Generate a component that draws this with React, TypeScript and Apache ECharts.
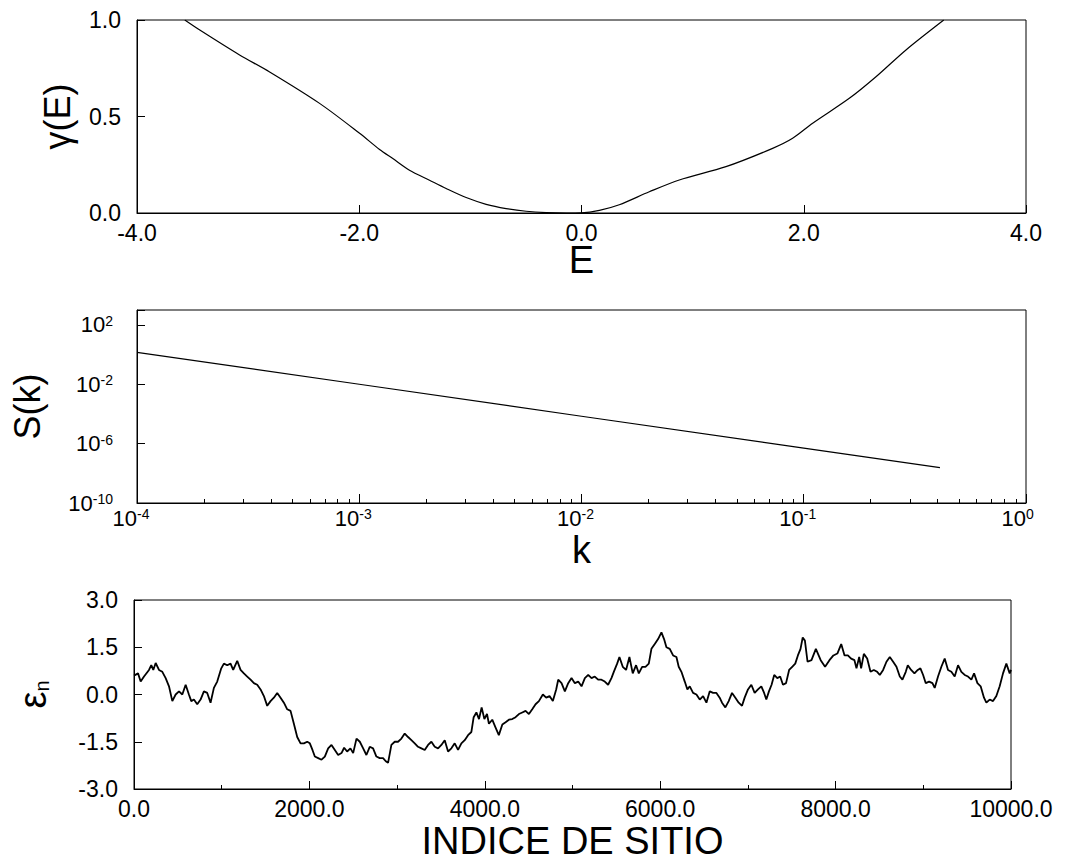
import React, { useEffect, useRef } from 'react';
import * as echarts from 'echarts';

// Lyapunov exponent gamma(E) versus energy E
const energy = [-3.57, -3.435, -3.077, -2.81, -2.357, -1.997, -1.817, -1.698, -1.548, -1.368, -1.218, -1.038, -0.858, -0.678, -0.498, -0.318, -0.138, 0.0, 0.161, 0.34, 0.61, 0.88, 1.3, 1.72, 1.9, 2.08, 2.41, 2.65, 2.92, 3.26];
const gamma = [1.0, 0.948, 0.819, 0.732, 0.568, 0.413, 0.329, 0.282, 0.222, 0.17, 0.127, 0.08, 0.045, 0.023, 0.009, 0.002, 0.0, 0.001, 0.014, 0.043, 0.11, 0.171, 0.24, 0.335, 0.387, 0.465, 0.594, 0.706, 0.845, 1.0];

// Spectral density S(k)
const kValues = [1e-4, 1e-3, 1e-2, 1e-1, 0.41];
const sValues = [1.4, 1.0e-2, 7e-5, 5e-7, 2.4e-8];

// Site energies epsilon_n along the chain
const siteIndex = [0, 46, 76, 114, 171, 197, 220, 247, 285, 323, 361, 399, 437, 475, 513, 551, 589, 626, 653, 683, 721, 759, 797, 835, 873, 911, 949, 995, 1025, 1063, 1101, 1131, 1177, 1215, 1253, 1291, 1329, 1367, 1405, 1443, 1481, 1519, 1557, 1595, 1633, 1671, 1709, 1747, 1785, 1823, 1861, 1899, 1937, 1975, 2005, 2035, 2062, 2100, 2138, 2176, 2214, 2252, 2290, 2328, 2366, 2396, 2430, 2468, 2499, 2537, 2575, 2613, 2650, 2688, 2726, 2764, 2802, 2840, 2871, 2897, 2935, 2973, 3011, 3049, 3087, 3125, 3163, 3201, 3239, 3277, 3315, 3353, 3391, 3429, 3467, 3505, 3543, 3581, 3619, 3657, 3695, 3733, 3771, 3809, 3847, 3873, 3904, 3934, 3964, 3995, 4025, 4047, 4085, 4123, 4160, 4200, 4237, 4275, 4313, 4351, 4389, 4427, 4465, 4503, 4541, 4579, 4617, 4662, 4700, 4738, 4776, 4814, 4837, 4875, 4913, 4951, 4989, 5027, 5065, 5103, 5141, 5179, 5217, 5254, 5292, 5330, 5368, 5406, 5444, 5471, 5509, 5535, 5573, 5611, 5649, 5687, 5725, 5756, 5794, 5832, 5870, 5900, 5938, 5976, 6014, 6044, 6071, 6109, 6147, 6185, 6211, 6242, 6280, 6310, 6337, 6375, 6413, 6451, 6489, 6527, 6565, 6603, 6641, 6678, 6705, 6743, 6781, 6819, 6857, 6895, 6933, 6963, 7001, 7039, 7077, 7115, 7153, 7185, 7210, 7240, 7270, 7300, 7335, 7368, 7400, 7435, 7470, 7505, 7540, 7570, 7600, 7625, 7650, 7680, 7725, 7775, 7830, 7880, 7930, 7975, 8020, 8064, 8102, 8140, 8177, 8215, 8238, 8269, 8291, 8322, 8360, 8398, 8436, 8474, 8504, 8542, 8580, 8618, 8656, 8694, 8732, 8762, 8800, 8823, 8861, 8899, 8937, 8967, 8998, 9028, 9066, 9104, 9130, 9168, 9206, 9244, 9282, 9320, 9358, 9396, 9434, 9472, 9510, 9548, 9579, 9617, 9654, 9692, 9719, 9757, 9795, 9833, 9871, 9909, 9947, 9985, 10000];
const siteEnergy = [0.6, 0.67, 0.41, 0.57, 0.78, 0.93, 0.78, 1.0, 0.78, 0.72, 0.52, 0.26, -0.21, 0.0, 0.1, 0.0, 0.31, 0.0, -0.21, -0.16, -0.31, -0.16, 0.1, 0.05, -0.26, 0.21, 0.41, 0.83, 0.98, 0.93, 0.98, 0.78, 1.07, 0.78, 0.67, 0.57, 0.47, 0.36, 0.31, 0.16, -0.05, -0.36, -0.21, -0.1, 0.05, -0.1, -0.26, -0.47, -0.52, -0.93, -1.35, -1.55, -1.55, -1.5, -1.55, -1.76, -1.97, -2.02, -2.07, -1.97, -1.71, -1.6, -1.76, -1.92, -1.86, -1.69, -1.81, -1.71, -1.86, -1.4, -1.5, -1.71, -1.92, -1.66, -1.71, -1.97, -2.02, -2.02, -2.12, -2.17, -1.6, -1.5, -1.5, -1.4, -1.24, -1.35, -1.45, -1.55, -1.66, -1.71, -1.76, -1.6, -1.5, -1.66, -1.71, -1.6, -1.45, -1.81, -1.71, -1.55, -1.76, -1.55, -1.45, -1.29, -1.19, -0.72, -0.57, -0.78, -0.41, -0.78, -0.62, -0.93, -0.8, -1.05, -1.29, -0.95, -0.88, -0.8, -0.78, -0.72, -0.62, -0.57, -0.52, -0.62, -0.47, -0.31, -0.21, 0.0, -0.1, -0.05, -0.21, 0.16, 0.47, 0.36, 0.1, 0.36, 0.52, 0.36, 0.41, 0.26, 0.52, 0.62, 0.52, 0.57, 0.47, 0.47, 0.41, 0.31, 0.52, 0.72, 0.98, 1.19, 0.88, 0.78, 1.19, 0.67, 0.93, 0.67, 0.88, 0.88, 0.98, 1.45, 1.6, 1.76, 1.97, 1.76, 1.5, 1.45, 1.24, 1.19, 0.88, 0.72, 0.41, 0.16, 0.26, 0.05, 0.0, -0.16, -0.05, -0.26, 0.1, 0.05, 0.05, -0.1, -0.26, -0.41, -0.21, 0.05, -0.1, -0.26, -0.36, -0.1, 0.16, 0.31, 0.05, 0.16, 0.26, 0.05, -0.16, 0.1, 0.31, 0.62, 0.52, 0.57, 0.31, 0.36, 0.78, 0.88, 0.98, 1.24, 1.45, 1.81, 1.71, 1.04, 1.09, 1.45, 1.09, 0.88, 1.09, 1.24, 1.3, 1.6, 1.24, 1.24, 1.14, 1.09, 0.83, 1.19, 0.83, 1.29, 1.14, 0.72, 0.78, 0.72, 0.62, 0.78, 1.04, 1.19, 1.04, 0.88, 0.57, 0.47, 0.72, 0.93, 0.78, 0.67, 0.78, 0.83, 0.62, 0.36, 0.41, 0.36, 0.21, 0.57, 0.88, 1.14, 0.78, 0.72, 0.57, 0.93, 0.72, 0.62, 0.57, 0.47, 0.67, 0.36, 0.26, -0.1, -0.26, -0.16, -0.21, -0.05, 0.26, 0.67, 0.98, 0.67, 0.78];

const FONT = '"Liberation Sans", Arial, Helvetica, sans-serif';
const BLACK = '#000';

// "10" followed by a raised exponent; the trailing padding keeps the label's
// centre on the right edge of "10", so the mantissa ends at the tick.
const powLabelX = (v: number) => {
  const e = Math.round(Math.log10(v));
  return e < 0 ? `{b|10}{s|${e}}` : `{b|10}{z|${e}}`;
};
const powLabelY = (v: number) => `{b|10}{s|${Math.round(Math.log10(v))}}`;

const frameGrid = (left: number, top: number, width: number) => ({
  left,
  top,
  width,
  height: 193,
  show: true,
  borderColor: BLACK,
  borderWidth: 1,
  backgroundColor: 'transparent',
});

const tickLabel = (margin: number, formatter: (v: number) => string) => ({
  color: BLACK,
  fontSize: 23,
  lineHeight: 20,
  fontFamily: FONT,
  margin,
  formatter,
});

const baseAxis = (gridIndex: number) => ({
  gridIndex,
  axisLine: { show: true, onZero: false, lineStyle: { color: BLACK, width: 1 } },
  axisTick: { show: true, inside: true, length: 8, lineStyle: { color: BLACK, width: 1 } },
  splitLine: { show: false },
  nameLocation: 'middle' as const,
  nameMoveOverlap: false,
});

export default function App() {
  const ref = useRef<HTMLDivElement>(null);

  useEffect(() => {
    const chart = echarts.init(ref.current!, undefined, { renderer: 'svg' });
    const fixed1 = (v: number) => v.toFixed(1);

    chart.setOption({
      animation: false,
      backgroundColor: '#fff',
      textStyle: { fontFamily: FONT },
      grid: [frameGrid(137, 20, 889), frameGrid(137, 310, 889), frameGrid(133, 600, 878)],
      xAxis: [
        {
          ...baseAxis(0),
          type: 'value',
          min: -4,
          max: 4,
          interval: 2,
          axisLabel: tickLabel(10, fixed1),
          name: 'E',
          nameGap: 34,
          nameTextStyle: { color: BLACK, fontFamily: FONT, fontSize: 38, lineHeight: 26 },
        },
        {
          ...baseAxis(1),
          type: 'log',
          logBase: 10,
          min: 1e-4,
          max: 1,
          axisTick: { show: true, inside: true, length: 9, lineStyle: { color: BLACK, width: 1 } },
          minorTick: { show: true, splitNumber: 9, length: 4, lineStyle: { color: BLACK, width: 1 } },
          axisLabel: {
            color: BLACK,
            fontFamily: FONT,
            margin: 4,
            formatter: powLabelX,
            rich: {
              b: { fontSize: 22, fontFamily: FONT, color: BLACK, verticalAlign: 'bottom', lineHeight: 22 },
              s: { fontSize: 14, fontFamily: FONT, color: BLACK, verticalAlign: 'top', lineHeight: 14, padding: [0, 12, 16, 0] },
              z: { fontSize: 14, fontFamily: FONT, color: BLACK, verticalAlign: 'top', lineHeight: 14, padding: [0, 16.7, 16, 0] },
            },
          },
          name: 'k',
          nameGap: 34,
          nameTextStyle: { color: BLACK, fontFamily: FONT, fontSize: 38, lineHeight: 26 },
        },
        {
          ...baseAxis(2),
          type: 'value',
          min: 0,
          max: 10000,
          interval: 2000,
          minorTick: { show: true, splitNumber: 2, length: 4, lineStyle: { color: BLACK, width: 1 } },
          axisLabel: tickLabel(10, fixed1),
          name: 'INDICE DE SITIO',
          nameGap: 37,
          nameTextStyle: { color: BLACK, fontFamily: FONT, fontSize: 38, lineHeight: 30 },
        },
      ],
      yAxis: [
        {
          ...baseAxis(0),
          type: 'value',
          min: 0,
          max: 1,
          interval: 0.5,
          axisLabel: tickLabel(16, fixed1),
          name: 'γ(E)',
          nameGap: 62,
          nameTextStyle: { color: BLACK, fontFamily: FONT, fontSize: 36 },
        },
        {
          ...baseAxis(1),
          type: 'log',
          logBase: 10,
          min: 1e-10,
          max: 1e3,
          interval: 4,
          axisLabel: {
            color: BLACK,
            fontFamily: FONT,
            margin: 24,
            formatter: (v: number) => {
              const e = Math.round(Math.log10(v));
              return [2, -2, -6, -10].includes(e) ? powLabelY(v) : '';
            },
            rich: {
              b: { fontSize: 22, fontFamily: FONT, color: BLACK, verticalAlign: 'bottom', lineHeight: 22 },
              s: { fontSize: 14, fontFamily: FONT, color: BLACK, verticalAlign: 'top', lineHeight: 14, padding: [0, 0, 16, 0] },
            },
          },
          name: 'S(k)',
          nameGap: 92,
          nameTextStyle: { color: BLACK, fontFamily: FONT, fontSize: 36 },
        },
        {
          ...baseAxis(2),
          type: 'value',
          min: -3,
          max: 3,
          interval: 1.5,
          axisLabel: tickLabel(16, fixed1),
          name: '{e|ε}{n|n}',
          nameGap: 82,
          nameTextStyle: {
            color: BLACK,
            fontFamily: FONT,
            rich: {
              e: { fontSize: 38, fontFamily: FONT, color: BLACK, verticalAlign: 'top', lineHeight: 38 },
              n: { fontSize: 20, fontFamily: FONT, color: BLACK, verticalAlign: 'bottom', lineHeight: 20, padding: [24, 0, 0, 0] },
            },
          },
        },
      ],
      series: [
        {
          type: 'line',
          xAxisIndex: 0,
          yAxisIndex: 0,
          data: energy.map((e, i) => [e, gamma[i]]),
          showSymbol: false,
          smooth: 0.3,
          lineStyle: { color: BLACK, width: 1.2 },
        },
        {
          type: 'line',
          xAxisIndex: 1,
          yAxisIndex: 1,
          data: kValues.map((k, i) => [k, sValues[i]]),
          showSymbol: false,
          lineStyle: { color: BLACK, width: 1.2 },
        },
        {
          type: 'line',
          xAxisIndex: 2,
          yAxisIndex: 2,
          data: siteIndex.map((n, i) => [n, siteEnergy[i]]),
          showSymbol: false,
          lineStyle: { color: BLACK, width: 1.8 },
        },
      ],
    });

    return () => chart.dispose();
  }, []);

  return (
    <div
      ref={ref}
      style={{ position: 'absolute', left: 0, top: 0, width: 1076, height: 861, background: '#fff' }}
    />
  );
}
